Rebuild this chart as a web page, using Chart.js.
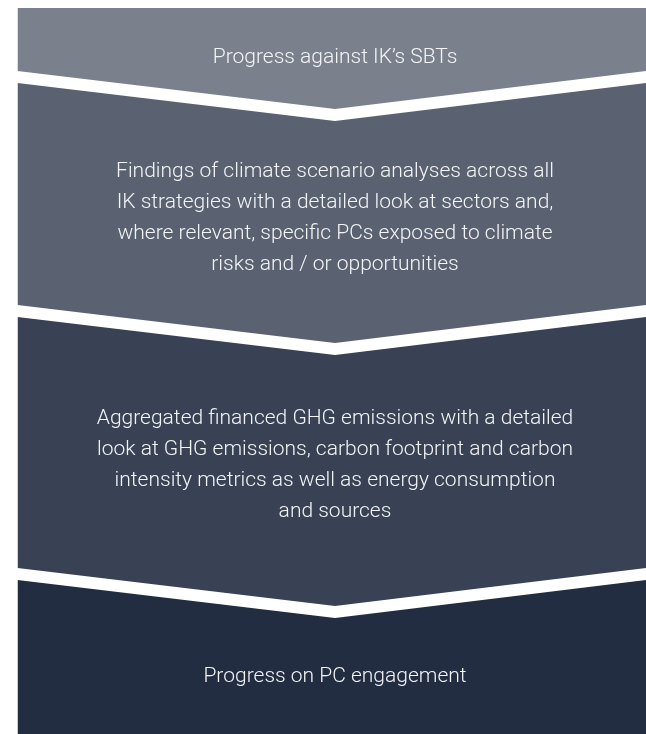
<!DOCTYPE html>
<html>
<head>
<meta charset="utf-8">
<script src="https://cdn.jsdelivr.net/npm/chart.js@4.4.1/dist/chart.umd.min.js"></script>
<style>
  html, body { margin: 0; padding: 0; background: #ffffff; }
  #wrap { width: 646px; height: 734px; }
</style>
</head>
<body>
<div id="wrap"><canvas id="flow" width="646" height="734"></canvas></div>
<script>
// stages of the reporting flow, top to bottom
const stageLines = [
  ['Progress against IK\u2019s SBTs'],
  ['Findings of climate scenario analyses across all',
   'IK strategies with a detailed look at sectors and,',
   'where relevant, specific PCs exposed to climate',
   'risks and / or opportunities'],
  ['Aggregated financed GHG emissions with a detailed',
   'look at GHG emissions, carbon footprint and carbon',
   'intensity metrics as well as energy consumption',
   'and sources'],
  ['Progress on PC engagement']
];

// edge positions of each block (left side, apex, right side)
const edgeX = [17.5, 335, 646];
const sideTop = [8, 83, 317, 580];
const apexTop = [8, 121, 355, 618];
const sideBottom = [71, 305, 568, 734];
const apexBottom = [109, 343, 606, 734];
const textMid = [58, 218, 465, 677];

const blockColors = ['#7a818c', '#5a6271', '#384254', '#222d42'];

const datasets = [];
stageLines.forEach((lines, i) => {
  datasets.push({
    label: 'top ' + i,
    data: [
      { x: edgeX[0], y: sideTop[i] },
      { x: edgeX[1], y: apexTop[i] },
      { x: edgeX[2], y: sideTop[i] }
    ],
    borderColor: 'transparent',
    borderWidth: 0,
    pointRadius: 0,
    fill: false
  });
  datasets.push({
    label: 'block ' + i,
    data: [
      { x: edgeX[0], y: sideBottom[i] },
      { x: edgeX[1], y: apexBottom[i] },
      { x: edgeX[2], y: sideBottom[i] }
    ],
    borderColor: 'transparent',
    borderWidth: 0,
    pointRadius: 0,
    backgroundColor: blockColors[i],
    fill: '-1'
  });
});

// 文字标签
const stageTextPlugin = {
  id: 'stageText',
  afterDatasetsDraw(chart) {
    const { ctx, scales } = chart;
    const cx = scales.x.getPixelForValue(edgeX[1]);
    const lineGap = 31;
    ctx.save();
    ctx.fillStyle = '#f3f4f6';
    ctx.font = '300 21px Roboto';
    ctx.textAlign = 'center';
    ctx.textBaseline = 'middle';
    stageLines.forEach((lines, i) => {
      const mid = scales.y.getPixelForValue(textMid[i]);
      const start = mid - (lines.length - 1) * lineGap / 2;
      lines.forEach((t, j) => ctx.fillText(t, cx, start + j * lineGap));
    });
    ctx.restore();
  }
};

new Chart(document.getElementById('flow'), {
  type: 'line',
  data: { datasets: datasets },
  options: {
    responsive: false,
    animation: false,
    layout: { padding: 0 },
    elements: { line: { tension: 0 } },
    plugins: {
      legend: { display: false },
      tooltip: { enabled: false },
      title: { display: false }
    },
    scales: {
      x: { type: 'linear', min: 0, max: 646, display: false },
      y: { type: 'linear', min: 0, max: 734, reverse: true, display: false }
    }
  },
  plugins: [stageTextPlugin]
});
</script>
</body>
</html>
